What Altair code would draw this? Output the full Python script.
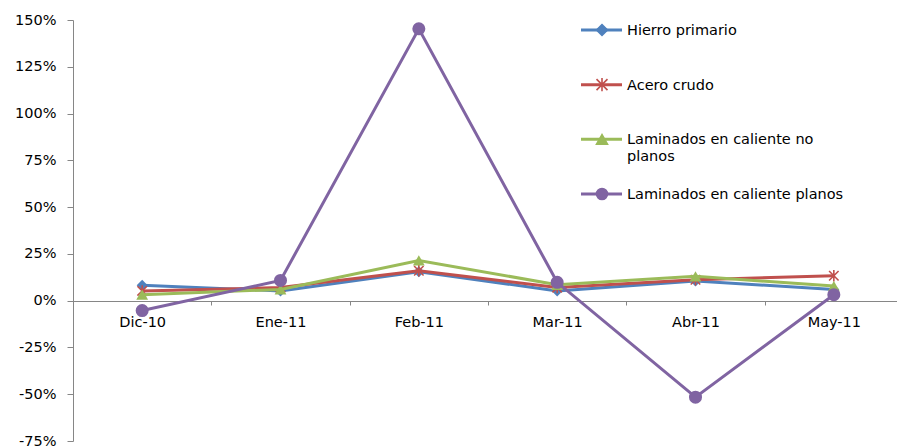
import altair as alt
import pandas as pd

# Monthly variation (%) by product
meses = ["Dic-10", "Ene-11", "Feb-11", "Mar-11", "Abr-11", "May-11"]
series = [
    "Hierro primario",
    "Acero crudo",
    "Laminados en caliente no planos",
    "Laminados en caliente planos",
]
etiquetas = [
    "Hierro primario",
    "Acero crudo",
    "Laminados en caliente no\nplanos",
    "Laminados en caliente planos",
]
hierro_primario = [8.2, 5.2, 15.5, 5.2, 10.5, 6.0]
acero_crudo = [5.2, 7.0, 16.0, 7.0, 11.2, 13.3]
laminados_no_planos = [3.2, 6.0, 21.5, 8.5, 13.0, 7.8]
laminados_planos = [-5.3, 10.8, 145.3, 9.8, -51.6, 3.2]

colores = ["#4F81BD", "#C0504D", "#9BBB59", "#8064A2"]
y_ticks = [-75, -50, -25, 0, 25, 50, 75, 100, 125, 150]

valores = [hierro_primario, acero_crudo, laminados_no_planos, laminados_planos]
df = pd.DataFrame(
    [
        {"mes": m, "serie": s, "valor": v}
        for s, vals in zip(series, valores)
        for m, v in zip(meses, vals)
    ]
)
df_leyenda = pd.DataFrame(
    {"serie": series, "etiqueta": etiquetas, "orden": list(range(len(series)))}
)

FONT = "DejaVu Sans"
FS = 14.5
GRAY = "#868686"
ASTERISCO = "M-1,-1L1,1M-1,1L1,-1M0,-1.2V1.2"

x_enc = alt.X(
    "mes:N",
    sort=meses,
    scale=alt.Scale(type="band", domain=meses, range=[0, 830], paddingInner=0, paddingOuter=0),
    axis=alt.Axis(
        title=None,
        offset=-140,
        tickBand="extent",
        tickSize=4,
        labelPadding=10,
        labelAngle=0,
        labelBaseline="top",
        labelFontSize=FS,
        labelFont=FONT,
        labelColor="#000000",
        domainColor=GRAY,
        tickColor=GRAY,
        grid=False,
    ),
)
y_enc = alt.Y(
    "valor:Q",
    scale=alt.Scale(domain=[-75, 150], nice=False, zero=False),
    axis=alt.Axis(
        title=None,
        values=y_ticks,
        labelExpr="datum.value + '%'",
        tickSize=6,
        labelPadding=11,
        labelFontSize=FS,
        labelFont=FONT,
        labelColor="#000000",
        domainColor=GRAY,
        tickColor=GRAY,
        grid=False,
    ),
)
color_scale = alt.Scale(domain=series, range=colores)
color_enc = alt.Color("serie:N", scale=color_scale, legend=None)

marker_shapes = [
    ("diamond", True, 120),
    (ASTERISCO, False, 90),
    ("triangle-up", True, 140),
    ("circle", True, 170),
]

base = alt.Chart(df)
data_layers = []
for s, (shape, filled, size) in zip(series, marker_shapes):
    sub = base.transform_filter(alt.datum.serie == s)
    data_layers.append(
        sub.mark_line(strokeWidth=3).encode(x=x_enc, y=y_enc, color=color_enc)
    )
    data_layers.append(
        sub.mark_point(shape=shape, filled=filled, size=size, strokeWidth=1.6, opacity=1).encode(
            x=x_enc, y=y_enc, color=color_enc
        )
    )
plot = alt.layer(*data_layers)

# Legend block in the upper right of the plot
ley = alt.Chart(df_leyenda)
y_ley = alt.Y("orden:Q", scale=alt.Scale(domain=[0, 3], range=[10, 174]), axis=None)
ley_linea = ley.mark_rule(strokeWidth=3).encode(
    x=alt.value(508), x2=alt.value(549), y=y_ley, color=color_enc
)
ley_marca = ley.mark_point(filled=True, size=120, strokeWidth=1.6, opacity=1).encode(
    x=alt.value(529),
    y=y_ley,
    color=color_enc,
    stroke=alt.Stroke("serie:N", scale=color_scale, legend=None),
    shape=alt.Shape(
        "serie:N",
        scale=alt.Scale(domain=series, range=["diamond", ASTERISCO, "triangle-up", "circle"]),
        legend=None,
    ),
)
ley_texto = ley.mark_text(
    align="left",
    baseline="alphabetic",
    dy=5,
    lineBreak="\n",
    lineHeight=17,
    fontSize=FS,
    font=FONT,
    color="#000000",
).encode(x=alt.value(554), y=y_ley, text="etiqueta:N")
leyenda = alt.layer(ley_linea, ley_marca, ley_texto)

chart = (
    alt.layer(plot, leyenda)
    .resolve_scale(y="independent")
    .properties(
        width=824,
        height=421,
        padding={"left": 73, "top": 20, "right": 0, "bottom": 7},
        autosize=alt.AutoSizeParams(type="none"),
        background="#ffffff",
    )
    .configure_view(stroke=None)
)

chart.save("out.html", embed_options={"renderer": "svg", "actions": False})
